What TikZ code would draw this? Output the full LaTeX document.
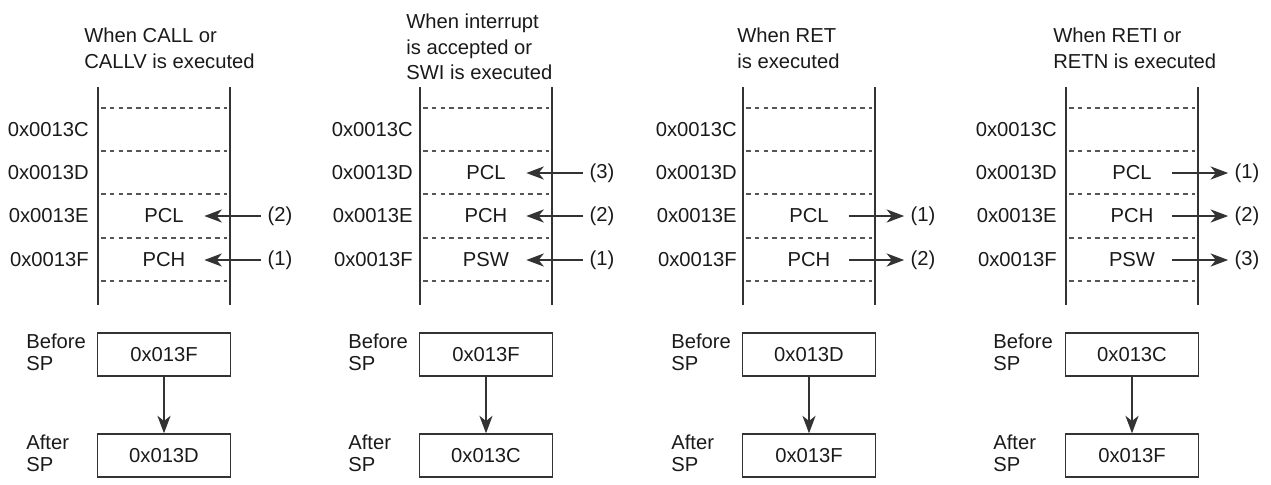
\documentclass[tikz,border=0pt]{standalone}
\usepackage{fontspec}
\setmainfont{Liberation Sans}
\usepackage{xcolor}
\definecolor{cInk} {HTML}{1A1A1A}
\definecolor{cRail}{HTML}{333333}
\definecolor{cDash}{HTML}{555555}
\usepackage{tikz}
\usetikzlibrary{arrows.meta, positioning}
\tikzset{
  ttl/.style   = {anchor=north west, inner sep=0pt, align=left,
                  font=\fontsize{11.5}{14.5}\selectfont, text=cInk},
  addr/.style  = {anchor=east, inner sep=0pt,
                  font=\fontsize{11.5}{14}\selectfont, text=cInk},
  slot/.style  = {inner sep=0pt, minimum width=1.6cm,
                  font=\fontsize{11.5}{14}\selectfont, text=cInk},
  num/.style   = {inner sep=3.5pt, font=\fontsize{11.5}{14}\selectfont,
                  text=cInk},
  rail/.style  = {draw=cRail, line width=0.9pt},
  cell/.style  = {draw=cDash, line width=0.8pt,
                  dash pattern=on 2.6pt off 2.4pt},
  spbox/.style = {draw=cRail, line width=0.8pt, minimum width=2.66cm,
                  minimum height=0.86cm, inner sep=0pt,
                  font=\fontsize{11.5}{14}\selectfont, text=cInk},
  splbl/.style = {anchor=west, inner sep=0pt, align=left,
                  font=\fontsize{11.5}{12.5}\selectfont, text=cInk},
  arr/.style   = {-{Stealth[length=10pt, width=7.5pt, inset=3pt]},
                  draw=cRail, line width=0.8pt},
}

\begin{document}
\begin{tikzpicture}[x=0.02cm, y=-0.02cm]
  \useasboundingbox (0,0) rectangle (1271,484);

  % ---- CALL / CALLV
  \begin{scope}[shift={(98,0)}]
    \node[ttl] (p1t) at (-14,28) {When CALL or\\CALLV is executed};
    \draw[rail] (0,87) -- (0,305);
    \draw[rail] (132,87) -- (132,305);
    \foreach \y in {108,151,194,238,281}
      \draw[cell] (3,\y) -- (129,\y);
    \foreach \a/\y in {C/130,D/173,E/216,F/260}
      \node[addr] (p1a\a) at (-9,\y) {0x0013\a};
    \node[slot] (p1E) at (66,216) {PCL};
    \node[slot] (p1F) at (66,260) {PCH};
    \node[num]  (p1n2) at (182,216) {(2)};
    \node[num]  (p1n1) at (182,260) {(1)};
    \draw[arr] (p1n2) -- (p1E);
    \draw[arr] (p1n1) -- (p1F);
    \node[spbox] (p1bef) at (66,354.5) {0x013F};
    \node[spbox] (p1aft) at (66,455.5) {0x013D};
    \node[splbl] (p1lb) at (-72,352) {Before\\SP};
    \node[splbl] (p1la) at (-72,453) {After\\SP};
    \draw[arr] (p1bef) -- (p1aft);
  \end{scope}

  % ---- interrupt / SWI
  \begin{scope}[shift={(420,0)}]
    \node[ttl] (p2t) at (-14,14)
          {When interrupt\\is accepted or\\SWI is executed};
    \draw[rail] (0,87) -- (0,305);
    \draw[rail] (132,87) -- (132,305);
    \foreach \y in {108,151,194,238,281}
      \draw[cell] (3,\y) -- (129,\y);
    \foreach \a/\y in {C/130,D/173,E/216,F/260}
      \node[addr] (p2a\a) at (-7,\y) {0x0013\a};
    \node[slot] (p2D) at (66,173) {PCL};
    \node[slot] (p2E) at (66,216) {PCH};
    \node[slot] (p2F) at (66,260) {PSW};
    \node[num]  (p2n3) at (182,173) {(3)};
    \node[num]  (p2n2) at (182,216) {(2)};
    \node[num]  (p2n1) at (182,260) {(1)};
    \draw[arr] (p2n3) -- (p2D);
    \draw[arr] (p2n2) -- (p2E);
    \draw[arr] (p2n1) -- (p2F);
    \node[spbox] (p2bef) at (66,354.5) {0x013F};
    \node[spbox] (p2aft) at (66,455.5) {0x013C};
    \node[splbl] (p2lb) at (-72,352) {Before\\SP};
    \node[splbl] (p2la) at (-72,453) {After\\SP};
    \draw[arr] (p2bef) -- (p2aft);
  \end{scope}

  % ---- RET
  \begin{scope}[shift={(743,0)}]
    \node[ttl] (p3t) at (-6,28) {When RET\\is executed};
    \draw[rail] (0,87) -- (0,305);
    \draw[rail] (132,87) -- (132,305);
    \foreach \y in {108,151,194,238,281}
      \draw[cell] (3,\y) -- (129,\y);
    \foreach \a/\y in {C/130,D/173,E/216,F/260}
      \node[addr] (p3a\a) at (-6,\y) {0x0013\a};
    \node[slot] (p3E) at (66,216) {PCL};
    \node[slot] (p3F) at (66,260) {PCH};
    \node[num]  (p3n1) at (180,216) {(1)};
    \node[num]  (p3n2) at (180,260) {(2)};
    \draw[arr] (p3E) -- (p3n1);
    \draw[arr] (p3F) -- (p3n2);
    \node[spbox] (p3bef) at (66,354.5) {0x013D};
    \node[spbox] (p3aft) at (66,455.5) {0x013F};
    \node[splbl] (p3lb) at (-72,352) {Before\\SP};
    \node[splbl] (p3la) at (-72,453) {After\\SP};
    \draw[arr] (p3bef) -- (p3aft);
  \end{scope}

  % ---- RETI / RETN
  \begin{scope}[shift={(1066,0)}]
    \node[ttl] (p4t) at (-13,28) {When RETI or\\RETN is executed};
    \draw[rail] (0,87) -- (0,305);
    \draw[rail] (132,87) -- (132,305);
    \foreach \y in {108,151,194,238,281}
      \draw[cell] (3,\y) -- (129,\y);
    \foreach \a/\y in {C/130,D/173,E/216,F/260}
      \node[addr] (p4a\a) at (-9,\y) {0x0013\a};
    \node[slot] (p4D) at (66,173) {PCL};
    \node[slot] (p4E) at (66,216) {PCH};
    \node[slot] (p4F) at (66,260) {PSW};
    \node[num]  (p4n1) at (181,173) {(1)};
    \node[num]  (p4n2) at (181,216) {(2)};
    \node[num]  (p4n3) at (181,260) {(3)};
    \draw[arr] (p4D) -- (p4n1);
    \draw[arr] (p4E) -- (p4n2);
    \draw[arr] (p4F) -- (p4n3);
    \node[spbox] (p4bef) at (66,354.5) {0x013C};
    \node[spbox] (p4aft) at (66,455.5) {0x013F};
    \node[splbl] (p4lb) at (-73,352) {Before\\SP};
    \node[splbl] (p4la) at (-73,453) {After\\SP};
    \draw[arr] (p4bef) -- (p4aft);
  \end{scope}

\end{tikzpicture}
\end{document}
